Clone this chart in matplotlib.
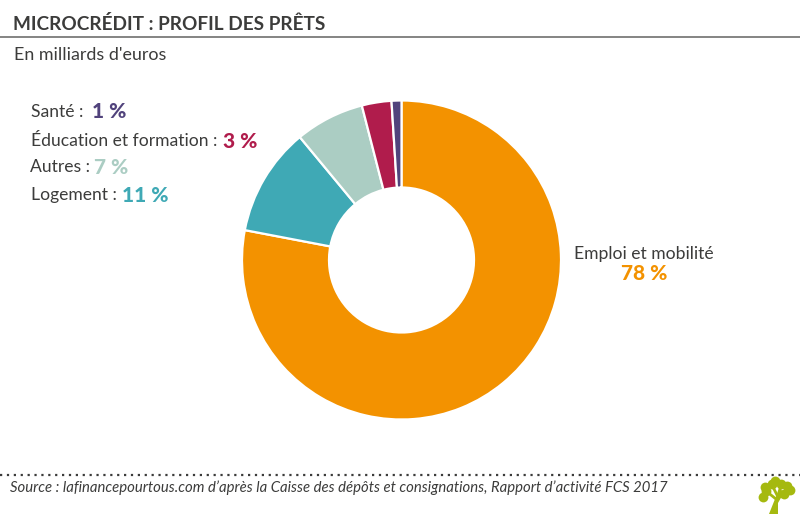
import matplotlib
matplotlib.use("Agg")
import matplotlib.pyplot as plt

plt.rcParams["font.family"] = ["Lato", "DejaVu Sans"]

categories = ["Emploi et mobilité", "Logement", "Autres", "Éducation et formation", "Santé"]
values = [78, 11, 7, 3, 1]
colors = ["#f39200", "#3fa9b5", "#abcdc3", "#b01c4c", "#51437c"]

W, H = 800, 514
TEXT = "#3c3c3b"

fig = plt.figure(figsize=(8, 5.14), dpi=100)

# fond en coordonnees pixels
bg = fig.add_axes([0, 0, 1, 1])
bg.set_xlim(0, W)
bg.set_ylim(H, 0)
bg.axis("off")

# donut
R = 159.5
cx, cy = 401.5, 260
ax = fig.add_axes([(cx - R) / W, 1 - (cy + R) / H, 2 * R / W, 2 * R / H])
ax.pie(values, colors=colors, startangle=90, counterclock=False, radius=1,
       wedgeprops=dict(width=1 - 72.5 / R, edgecolor="white", linewidth=1.6))
ax.set_xlim(-1, 1)
ax.set_ylim(-1, 1)

# titre
bg.text(13, 23.5, "MICROCRÉDIT : PROFIL DES PRÊTS", fontsize=13.7, fontweight="bold",
        color=TEXT, va="center", ha="left")
bg.plot([0, W], [37, 37], color="#6f6f6e", lw=1.2)
bg.text(14, 55, "En milliards d'euros", fontsize=12.9, color=TEXT, va="center")

# etiquettes
label_x = [31, 31, 30, 31]
pct_x = [92, 223, 94, 122]
label_y = [112, 141, 167, 195]
order = [4, 3, 2, 1]
for i, k in enumerate(order):
    bg.text(label_x[i], label_y[i], categories[k] + " :", fontsize=12.6, color=TEXT, va="center")
    bg.text(pct_x[i], label_y[i], f"{values[k]} %", fontsize=15, fontweight="black",
            color=colors[k], va="center")

bg.text(574, 254, categories[0], fontsize=12.6, color=TEXT, va="center")
bg.text(644, 274, f"{values[0]} %", fontsize=15, fontweight="black", color=colors[0],
        va="center", ha="center")

# pied de page
bg.plot([0, W], [474.5, 474.5], color="#3c3c3b", lw=1.6, linestyle=(0, (1, 2.1)))
bg.text(10, 488, "Source : lafinancepourtous.com d’après la Caisse des dépôts et consignations, "
        "Rapport d’activité FCS 2017", fontsize=10.7, style="italic", color=TEXT, va="center")

# petit arbre
green = "#a5b90f"
bg.fill([769, 778, 778, 782, 790, 782, 780, 777], [514, 514, 503, 496, 489, 491, 484, 494],
        color=green, lw=0)
bg.plot([776, 766], [499, 491], color=green, lw=2)
bg.plot([777, 772], [495, 485], color=green, lw=2)
bg.scatter([766, 763, 772, 775, 781, 787, 790, 784, 765],
           [491, 497, 484, 481, 484, 486, 490, 494, 487],
           s=50, color=green, lw=0)

fig.savefig("out.png", dpi=100)
